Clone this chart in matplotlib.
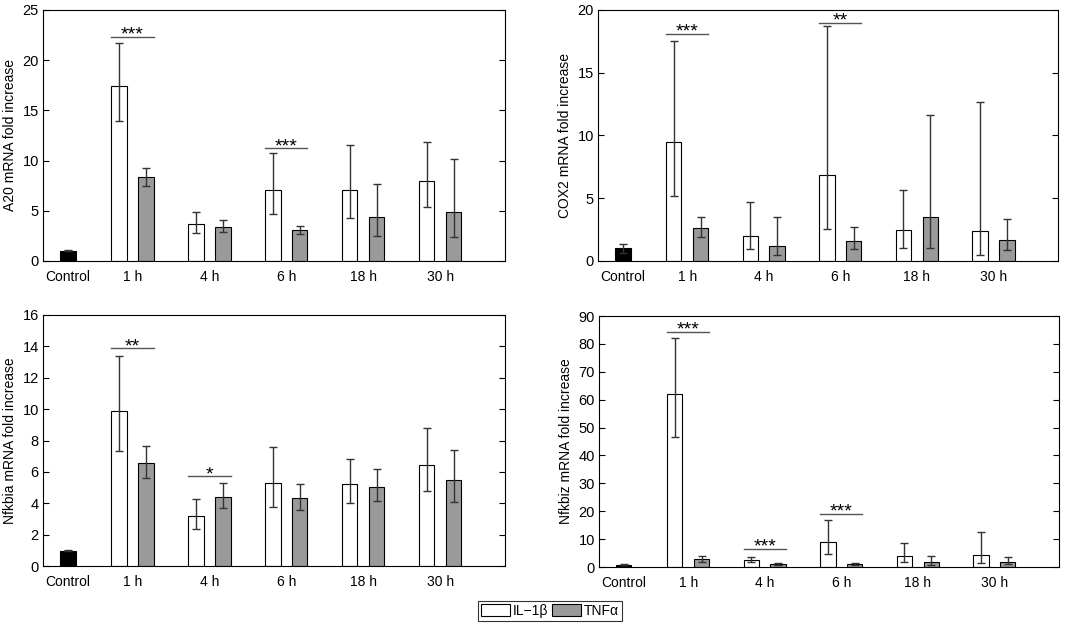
import numpy as np
import matplotlib
matplotlib.use("Agg")
import matplotlib.pyplot as plt
from matplotlib.patches import Patch

plt.rcParams['font.family'] = ['Liberation Sans', 'DejaVu Sans']
plt.rcParams['font.size'] = 10

# categories on the x axis
categories = ["Control", "1 h", "4 h", "6 h", "18 h", "30 h"]

# A20 panel (mean, lower and upper end of error bar)
a20_ctrl = [1.03, 1.0, 1.06]
a20_il1b = [17.4, 3.65, 7.07, 7.07, 7.93]
a20_il1b_lo = [13.98, 2.8, 4.71, 4.32, 5.38]
a20_il1b_hi = [21.75, 4.88, 10.72, 11.55, 11.89]
a20_tnf = [8.37, 3.42, 3.09, 4.42, 4.91]
a20_tnf_lo = [7.5, 2.85, 2.66, 2.52, 2.39]
a20_tnf_hi = [9.3, 4.08, 3.52, 7.67, 10.19]
a20_sig = [(1, 22.34, "***"), (3, 11.22, "***")]

# COX2 panel
cox2_ctrl = [1.01, 0.65, 1.38]
cox2_il1b = [9.51, 2.02, 6.85, 2.44, 2.36]
cox2_il1b_lo = [5.18, 0.93, 2.52, 1.04, 0.45]
cox2_il1b_hi = [17.56, 4.67, 18.75, 5.68, 12.64]
cox2_tnf = [2.6, 1.22, 1.62, 3.53, 1.67]
cox2_tnf_lo = [1.89, 0.45, 0.98, 1.04, 0.88]
cox2_tnf_hi = [3.53, 3.53, 2.74, 11.66, 3.37]
cox2_sig = [(1, 18.11, "***"), (3, 18.99, "**")]

# Nfkbia panel
nfkbia_ctrl = [0.98, 0.94, 1.03]
nfkbia_il1b = [9.89, 3.17, 5.28, 5.23, 6.47]
nfkbia_il1b_lo = [7.34, 2.36, 3.74, 4.02, 4.79]
nfkbia_il1b_hi = [13.4, 4.28, 7.57, 6.85, 8.79]
nfkbia_tnf = [6.57, 4.4, 4.32, 5.04, 5.47]
nfkbia_tnf_lo = [5.62, 3.68, 3.55, 4.15, 4.06]
nfkbia_tnf_hi = [7.68, 5.3, 5.23, 6.19, 7.4]
nfkbia_sig = [(1, 13.87, "**"), (2, 5.72, "*")]

# Nfkbiz panel
nfkbiz_ctrl = [0.9, 0.7, 1.1]
nfkbiz_il1b = [62.07, 2.63, 8.83, 3.82, 4.42]
nfkbiz_il1b_lo = [46.79, 1.79, 4.77, 1.79, 1.43]
nfkbiz_il1b_hi = [82.0, 3.46, 16.71, 8.47, 12.65]
nfkbiz_tnf = [2.75, 1.07, 0.95, 1.67, 1.67]
nfkbiz_tnf_lo = [1.67, 0.72, 0.6, 0.84, 1.07]
nfkbiz_tnf_hi = [3.82, 1.43, 1.31, 3.82, 3.7]
nfkbiz_sig = [(1, 84.39, "***"), (2, 6.56, "***"), (3, 19.1, "***")]

gray = "#9a9a9a"
errc = "#333333"
width = 0.2
off = 0.175
ctrl_x = 0.16


def draw_panel(ax, ctrl, il, il_lo, il_hi, tnf, tnf_lo, tnf_hi, sig, ymax, ystep, ylabel):
    x = np.arange(1, 6)
    il = np.array(il)
    tnf = np.array(tnf)
    ekw = dict(ecolor=errc, elinewidth=1, capsize=3, capthick=1)
    # control bar
    ax.bar(ctrl_x, ctrl[0], width, color="black", edgecolor="black", linewidth=0.8,
           yerr=[[ctrl[0] - ctrl[1]], [ctrl[2] - ctrl[0]]], error_kw=ekw)
    ax.bar(x - off, il, width, color="white", edgecolor="black", linewidth=0.8,
           yerr=[il - np.array(il_lo), np.array(il_hi) - il], error_kw=ekw)
    ax.bar(x + off, tnf, width, color=gray, edgecolor="black", linewidth=0.8,
           yerr=[tnf - np.array(tnf_lo), np.array(tnf_hi) - tnf], error_kw=ekw)
    # significance marks
    for g, yv, stars in sig:
        ax.plot([g - off - width / 2, g + off + width / 2], [yv, yv], color="#555555", lw=1)
        ax.annotate(stars, (g, yv), xytext=(0, -2), textcoords="offset points",
                    ha="center", va="baseline", fontsize=14)
    ax.set_xlim(-0.164, 5.844)
    ax.set_ylim(0, ymax)
    ax.set_yticks(np.arange(0, ymax + 0.1, ystep))
    ax.set_xticks([ctrl_x] + list(x))
    ax.set_xticklabels(categories)
    ax.tick_params(axis="x", length=0, pad=6.5, labelsize=10)
    ax.tick_params(axis="y", direction="in", right=True, length=4, width=0.8, pad=3, labelsize=10.5)
    ax.set_ylabel(ylabel, fontsize=10, labelpad=4)
    for s in ax.spines.values():
        s.set_linewidth(0.8)


fig = plt.figure(figsize=(10.84, 6.31), dpi=100)
ax1 = fig.add_axes([0.0397, 0.5864, 0.4262, 0.3978])
ax2 = fig.add_axes([0.5517, 0.5864, 0.4244, 0.3978])
ax3 = fig.add_axes([0.0397, 0.1030, 0.4262, 0.3978])
ax4 = fig.add_axes([0.5526, 0.1014, 0.4244, 0.3978])

draw_panel(ax1, a20_ctrl, a20_il1b, a20_il1b_lo, a20_il1b_hi, a20_tnf, a20_tnf_lo, a20_tnf_hi,
           a20_sig, 25, 5, "A20 mRNA fold increase")
draw_panel(ax2, cox2_ctrl, cox2_il1b, cox2_il1b_lo, cox2_il1b_hi, cox2_tnf, cox2_tnf_lo, cox2_tnf_hi,
           cox2_sig, 20, 5, "COX2 mRNA fold increase")
draw_panel(ax3, nfkbia_ctrl, nfkbia_il1b, nfkbia_il1b_lo, nfkbia_il1b_hi, nfkbia_tnf, nfkbia_tnf_lo,
           nfkbia_tnf_hi, nfkbia_sig, 16, 2, "Nfkbia mRNA fold increase")
draw_panel(ax4, nfkbiz_ctrl, nfkbiz_il1b, nfkbiz_il1b_lo, nfkbiz_il1b_hi, nfkbiz_tnf, nfkbiz_tnf_lo,
           nfkbiz_tnf_hi, nfkbiz_sig, 90, 10, "Nfkbiz mRNA fold increase")

handles = [Patch(facecolor="white", edgecolor="black", linewidth=0.8),
           Patch(facecolor=gray, edgecolor="black", linewidth=0.8)]
leg = fig.legend(handles, ["IL\u22121\u03b2", "TNF\u03b1"], ncol=2, loc="center",
                 bbox_to_anchor=(550 / 1084, 1 - 611 / 631), fontsize=10,
                 frameon=True, fancybox=False, edgecolor="black", handlelength=2.1,
                 handleheight=0.9, handletextpad=0.2, columnspacing=0.3, borderpad=0.2,
                 borderaxespad=0)
leg.get_frame().set_linewidth(0.8)

fig.savefig("out.png", dpi=100)
